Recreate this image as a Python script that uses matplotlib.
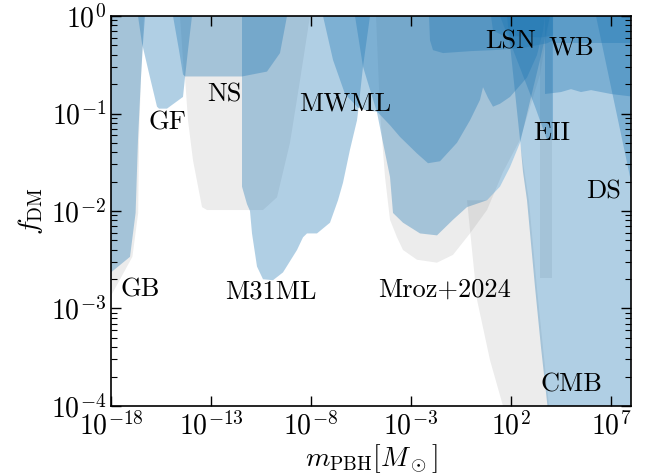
import numpy as np
import matplotlib
matplotlib.use("Agg")
import matplotlib.pyplot as plt
from matplotlib.ticker import NullLocator, LogLocator

plt.rcParams['font.family'] = 'serif'
plt.rcParams['font.serif'] = ['cmr10']
plt.rcParams['mathtext.fontset'] = 'cm'
plt.rcParams['axes.formatter.use_mathtext'] = True

# constraint boundaries, as (log10 m/Msun, log10 f_DM)
# blue = current bounds, grey = other bounds
gb_logm = [-18, -16.3, -16.4, -16.5, -16.65, -16.77, -17.05, -18]
gb_logf = [0, 0, -0.28, -0.63, -1.27, -2.02, -2.47, -2.63]

evap_logm = [-18, -16.35, -16.5, -16.6, -16.64, -16.93, -18]
evap_logf = [0, 0, -0.63, -1.27, -2.02, -2.47, -2.87]

gf_logm = [-16.65, -16.45, -16.05, -15.7, -15.6, -15.2, -14.4, -14.3, -14.15, -13.95]
gf_logf = [0, -0.28, -0.63, -0.93, -0.95, -0.95, -0.83, -0.63, -0.35, 0]

ns_logm = [-14.9, -14.6, -14.4, -14.3, -11.45, -10.2, -9.55, -9.3, -9.2]
ns_logf = [0, -0.35, -0.6, -0.62, -0.62, -0.57, -0.38, -0.11, 0]

ns_grey_logm = [-14.55, -14.35, -14.3, -14.15, -13.9, -13.45, -13.2, -10.4, -9.7, -9.05, -8.55, -8.05]
ns_grey_logf = [0, -0.6, -0.63, -1.07, -1.48, -1.96, -1.99, -1.99, -1.86, -1.3, -0.66, 0]

m31_logm = [-11.45, -11.45, -11.2, -11.05, -10.95, -10.7, -10.4, -9.9, -9.4, -8.7, -8.4,
            -8.2, -7.7, -7.05, -6.65, -6.4, -6.05, -5.7, -5.65, -5.4, -5.05]
m31_logf = [0, -1.75, -1.93, -2.0, -2.23, -2.57, -2.70, -2.71, -2.63, -2.40, -2.27,
            -2.23, -2.23, -2.12, -1.89, -1.71, -1.37, -1.07, -0.99, -0.52, 0]

mw_dark_logm = [-7.4, -6.9, -6.3, -5.65, -5.2, -4.7, -4.05, -3.55, -2.7, -2.15, -1.55,
                -0.7, -0.05, 0.45, 0.6, 0.85, 1.1, 1.45, 1.95, 2.8, 3.3, 3.6, 3.7]
mw_dark_logf = [0, -0.45, -0.8, -0.94, -0.97, -0.98, -1.12, -1.24, -1.41, -1.51, -1.49,
                -1.30, -1.07, -0.86, -0.73, -0.84, -0.93, -0.90, -0.83, -0.63, -0.40, -0.15, 0]

mw_light_logm = [-5.8, -5.4, -4.7, -4.4, -4.05, -3.9, -3.4, -2.55, -1.7, -0.9, -0.2,
                 0.8, 1.45, 1.95, 2.45, 3.45, 3.95]
mw_light_logf = [0, -0.52, -0.99, -1.3, -1.65, -2.02, -2.12, -2.23, -2.25, -2.09, -1.96,
                 -1.89, -1.75, -1.55, -1.30, -0.45, 0]

mroz_logm = [-4.75, -4.55, -4.3, -4.05, -3.7, -3.4, -2.7, -1.7, -0.9, -0.05, 0.8, 1.6, 2.45, 3.45, 3.95]
mroz_logf = [0, -0.99, -1.65, -2.09, -2.27, -2.40, -2.50, -2.53, -2.45, -2.23, -1.99, -1.6, -1.27, -0.6, 0]

strip_grey_logm = [-0.2, 0.3, 0.95, 1.6, 3.9, 3.3, 2.9, 2.45, 1.95, 1.45, 0.8]
strip_grey_logf = [-1.89, -2.91, -3.53, -4.0, -4.0, -2.8, -1.9, -1.30, -1.55, -1.75, -1.89]

col_grey_logm = [3.45, 3.45, 4.05, 4.05]
col_grey_logf = [0, -2.69, -2.69, 0]

band_logm = [-2.1, -2.05, -1.9, -1.4, 0.0, 1.1, 2.5, 3.8, 4.1, 4.1]
band_logf = [0, -0.25, -0.35, -0.38, -0.36, -0.35, -0.33, -0.28, -0.25, 0]

lsn_logm = [1.0, 1.1, 1.6, 3.5, 4.1, 4.1]
lsn_logf = [0, -0.15, -0.2, -0.22, -0.2, 0]

eii_logm = [1.45, 3.2, 3.8, 4.1, 4.1]
eii_logf = [0, -0.93, -1.27, -1.27, 0]

wb_logm = [4.1, 4.1, 8.2, 8.2]
wb_logf = [0, -0.28, -0.28, 0]

dyn_logm = [3.7, 3.7, 4.5, 5.0, 5.5, 6.0, 7.0, 8.2, 8.2]
dyn_logf = [0, -0.8, -0.78, -0.75, -0.78, -0.76, -0.8, -0.83, 0]

ds_logm = [6.25, 7.95, 8.2, 8.2]
ds_logf = [0, -1.65, -1.7, 0]

cmb_logm = [1.8, 2.45, 2.6, 2.8, 3.2, 3.5, 3.85, 8.2, 8.2]
cmb_logf = [0, -1.27, -1.6, -1.89, -2.78, -3.4, -4.05, -4.05, 0]

grey_regions = [(evap_logm, evap_logf), (ns_grey_logm, ns_grey_logf),
                (mroz_logm, mroz_logf), (strip_grey_logm, strip_grey_logf),
                (col_grey_logm, col_grey_logf)]
blue_regions = [(gb_logm, gb_logf), (gf_logm, gf_logf), (ns_logm, ns_logf),
                (m31_logm, m31_logf), (mw_dark_logm, mw_dark_logf),
                (mw_light_logm, mw_light_logf), (band_logm, band_logf),
                (lsn_logm, lsn_logf), (eii_logm, eii_logf),
                (wb_logm, wb_logf), (dyn_logm, dyn_logf), (ds_logm, ds_logf),
                (cmb_logm, cmb_logf)]

labels = ["GB", "GF", "NS", "MWML", "M31ML", "Mroz+2024", "LSN", "WB", "EII", "DS", "CMB"]
label_m = [3e-17, 6.3e-16, 4.5e-13, 5e-7, 1e-10, 5e-2, 1e2, 1.1e5, 1.1e4, 4e6, 1.1e5]
label_f = [1.55e-3, 8e-2, 1.58e-1, 1.26e-1, 1.5e-3, 1.55e-3, 5.4e-1, 4.7e-1, 6.3e-2, 1.58e-2, 1.65e-4]

fig = plt.figure(figsize=(6.51, 4.74), dpi=100)
ax = fig.add_axes([0.1705, 0.1435, 0.7988, 0.8227])

for lm, lf in grey_regions:
    ax.fill(10.0 ** np.array(lm), 10.0 ** np.array(lf), color='grey', alpha=0.15, lw=0)
for lm, lf in blue_regions:
    ax.fill(10.0 ** np.array(lm), 10.0 ** np.array(lf), color='C0', alpha=0.35, lw=0)

for t, x, y in zip(labels, label_m, label_f):
    ax.text(x, y, t, fontsize=19, ha='center', va='center')

ax.set_xscale('log')
ax.set_yscale('log')
ax.set_xlim(1e-18, 1e8)
ax.set_ylim(1e-4, 1)
ax.set_xticks([1e-18, 1e-13, 1e-8, 1e-3, 1e2, 1e7])
ax.xaxis.set_minor_locator(NullLocator())
ax.yaxis.set_minor_locator(LogLocator(base=10, subs=np.arange(2, 10)))
ax.tick_params(which='both', direction='in', top=True, right=True, labelsize=20)
ax.tick_params(which='major', length=7, width=1)
ax.tick_params(which='minor', length=4, width=0.8)
ax.tick_params(axis='x', pad=4)
for s in ax.spines.values():
    s.set_linewidth(1.2)
ax.set_xlabel(r'$m_{\rm PBH}[M_\odot]$', fontsize=20, labelpad=1)
ax.set_ylabel(r'$f_{\rm DM}$', fontsize=20)

fig.savefig('out.png', dpi=100)
